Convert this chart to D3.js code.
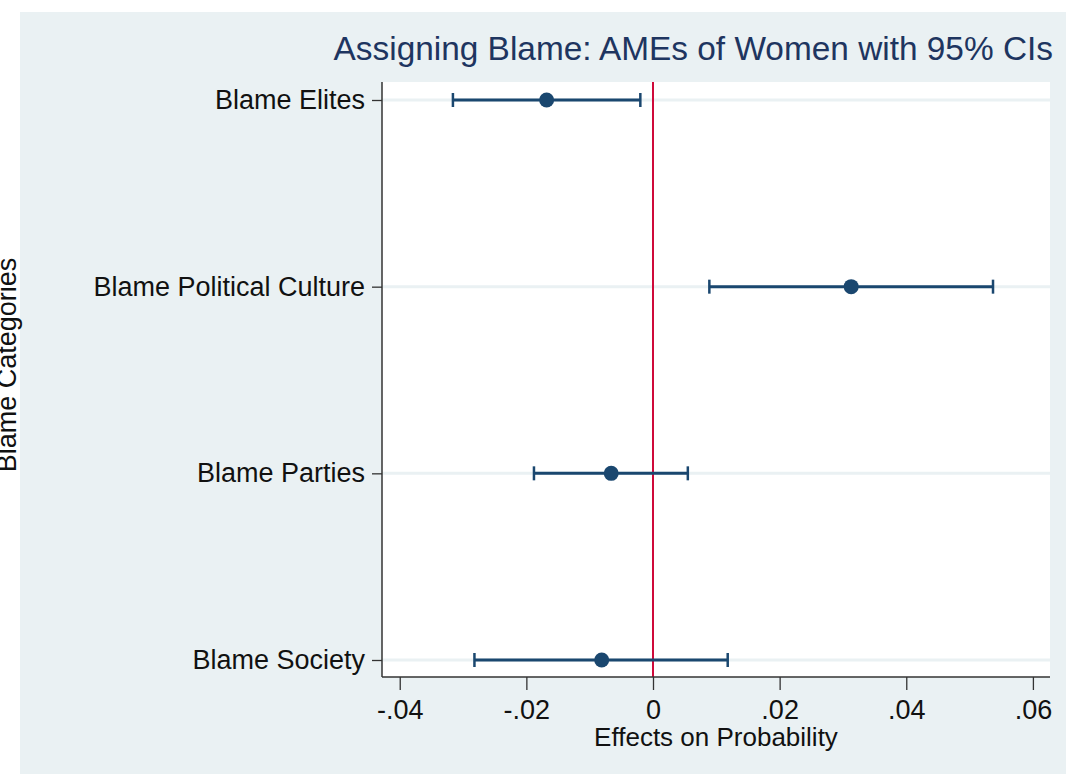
<!DOCTYPE html>
<html>
<head>
<meta charset="utf-8">
<script src="https://cdn.jsdelivr.net/npm/d3@7"></script>
<style>
  body { margin: 0; background: #fff; }
  text { font-family: "Liberation Sans", Arial, sans-serif; }
</style>
</head>
<body>
<svg id="chart"></svg>
<script>
var categories = ["Blame Elites", "Blame Political Culture", "Blame Parties", "Blame Society"];
var estimates = [-0.0168, 0.0313, -0.0066, -0.0081];
var lowerCI = [-0.0316, 0.0089, -0.0188, -0.0282];
var upperCI = [-0.0020, 0.0537, 0.0055, 0.0118];
var xTicks = [-0.04, -0.02, 0, 0.02, 0.04, 0.06];
var xTickLabels = ["-.04", "-.02", "0", ".02", ".04", ".06"];

var svgWidth = 1066;
var svgHeight = 774;
var plotL = 382, plotR = 1050, plotT = 82, plotB = 677;

var svg = d3.select("#chart")
    .attr("width", svgWidth)
    .attr("height", svgHeight);

// stata-ish background
svg.append("rect")
    .attr("x", 20).attr("y", 12)
    .attr("width", svgWidth - 20).attr("height", svgHeight - 12)
    .attr("fill", "#eaf1f3");

svg.append("rect")
    .attr("x", plotL).attr("y", plotT)
    .attr("width", plotR - plotL).attr("height", plotB - plotT)
    .attr("fill", "#ffffff");

var x = d3.scaleLinear()
    .domain([-0.0428, 0.0627])
    .range([plotL, plotR]);

var y = d3.scalePoint()
    .domain(categories)
    .range([100, 660]);

// gridlines
svg.selectAll("line.grid")
    .data(categories)
    .enter()
    .append("line")
    .attr("class", "grid")
    .attr("x1", plotL).attr("x2", plotR)
    .attr("y1", function(d) { return y(d); })
    .attr("y2", function(d) { return y(d); })
    .attr("stroke", "#eaf1f3")
    .attr("stroke-width", 3);

// zero line
svg.append("line")
    .attr("x1", x(0)).attr("x2", x(0))
    .attr("y1", plotT).attr("y2", plotB)
    .attr("stroke", "#cf0a3a")
    .attr("stroke-width", 2);

// axes
var xAxis = d3.axisBottom(x)
    .tickValues(xTicks)
    .tickFormat(function(d, i) { return xTickLabels[i]; })
    .tickSize(13)
    .tickSizeOuter(0);

var gx = svg.append("g")
    .attr("transform", "translate(0," + plotB + ")")
    .call(xAxis);
gx.select(".domain").attr("stroke", "#333").attr("stroke-width", 1.5)
    .attr("d", "M" + plotL + ",0H" + plotR);
gx.selectAll(".tick line").attr("stroke", "#333").attr("stroke-width", 1.3);
gx.selectAll(".tick text")
    .attr("font-size", 27)
    .attr("fill", "#111")
    .attr("y", 42)
    .attr("dy", null)
    .attr("font-family", "Liberation Sans, Arial, sans-serif");

var yAxis = d3.axisLeft(y)
    .tickSize(10)
    .tickSizeOuter(0);

var gy = svg.append("g")
    .attr("transform", "translate(" + plotL + ",0)")
    .call(yAxis);
gy.select(".domain").attr("stroke", "#333").attr("stroke-width", 1.5)
    .attr("d", "M0," + plotT + "V" + plotB);
gy.selectAll(".tick line").attr("stroke", "#333").attr("stroke-width", 1.3);
gy.selectAll(".tick text")
    .attr("font-size", 27)
    .attr("fill", "#111")
    .attr("x", -17)
    .attr("font-family", "Liberation Sans, Arial, sans-serif");

// error bars
var rows = categories.map(function(c, i) {
    return { cat: c, est: estimates[i], lo: lowerCI[i], hi: upperCI[i] };
});

var navy = "#1a476f";

svg.selectAll("line.ci")
    .data(rows)
    .enter()
    .append("line")
    .attr("x1", function(d) { return x(d.lo); })
    .attr("x2", function(d) { return x(d.hi); })
    .attr("y1", function(d) { return y(d.cat); })
    .attr("y2", function(d) { return y(d.cat); })
    .attr("stroke", navy)
    .attr("stroke-width", 3);

["lo", "hi"].forEach(function(k) {
    svg.selectAll("line.cap-" + k)
        .data(rows)
        .enter()
        .append("line")
        .attr("x1", function(d) { return x(d[k]); })
        .attr("x2", function(d) { return x(d[k]); })
        .attr("y1", function(d) { return y(d.cat) - 7; })
        .attr("y2", function(d) { return y(d.cat) + 7; })
        .attr("stroke", navy)
        .attr("stroke-width", 2.5);
});

svg.selectAll("circle")
    .data(rows)
    .enter()
    .append("circle")
    .attr("cx", function(d) { return x(d.est); })
    .attr("cy", function(d) { return y(d.cat); })
    .attr("r", 7.5)
    .attr("fill", navy);

// titles
svg.append("text")
    .attr("x", 1053).attr("y", 60)
    .attr("text-anchor", "end")
    .attr("font-size", 33.4)
    .attr("fill", "#1e3560")
    .text("Assigning Blame: AMEs of Women with 95% CIs");

svg.append("text")
    .attr("x", (plotL + plotR) / 2).attr("y", 746)
    .attr("text-anchor", "middle")
    .attr("font-size", 26)
    .attr("fill", "#111")
    .text("Effects on Probability");

svg.append("text")
    .attr("transform", "translate(16,365) rotate(-90)")
    .attr("text-anchor", "middle")
    .attr("font-size", 27)
    .attr("fill", "#111")
    .text("Blame Categories");
</script>
</body>
</html>
